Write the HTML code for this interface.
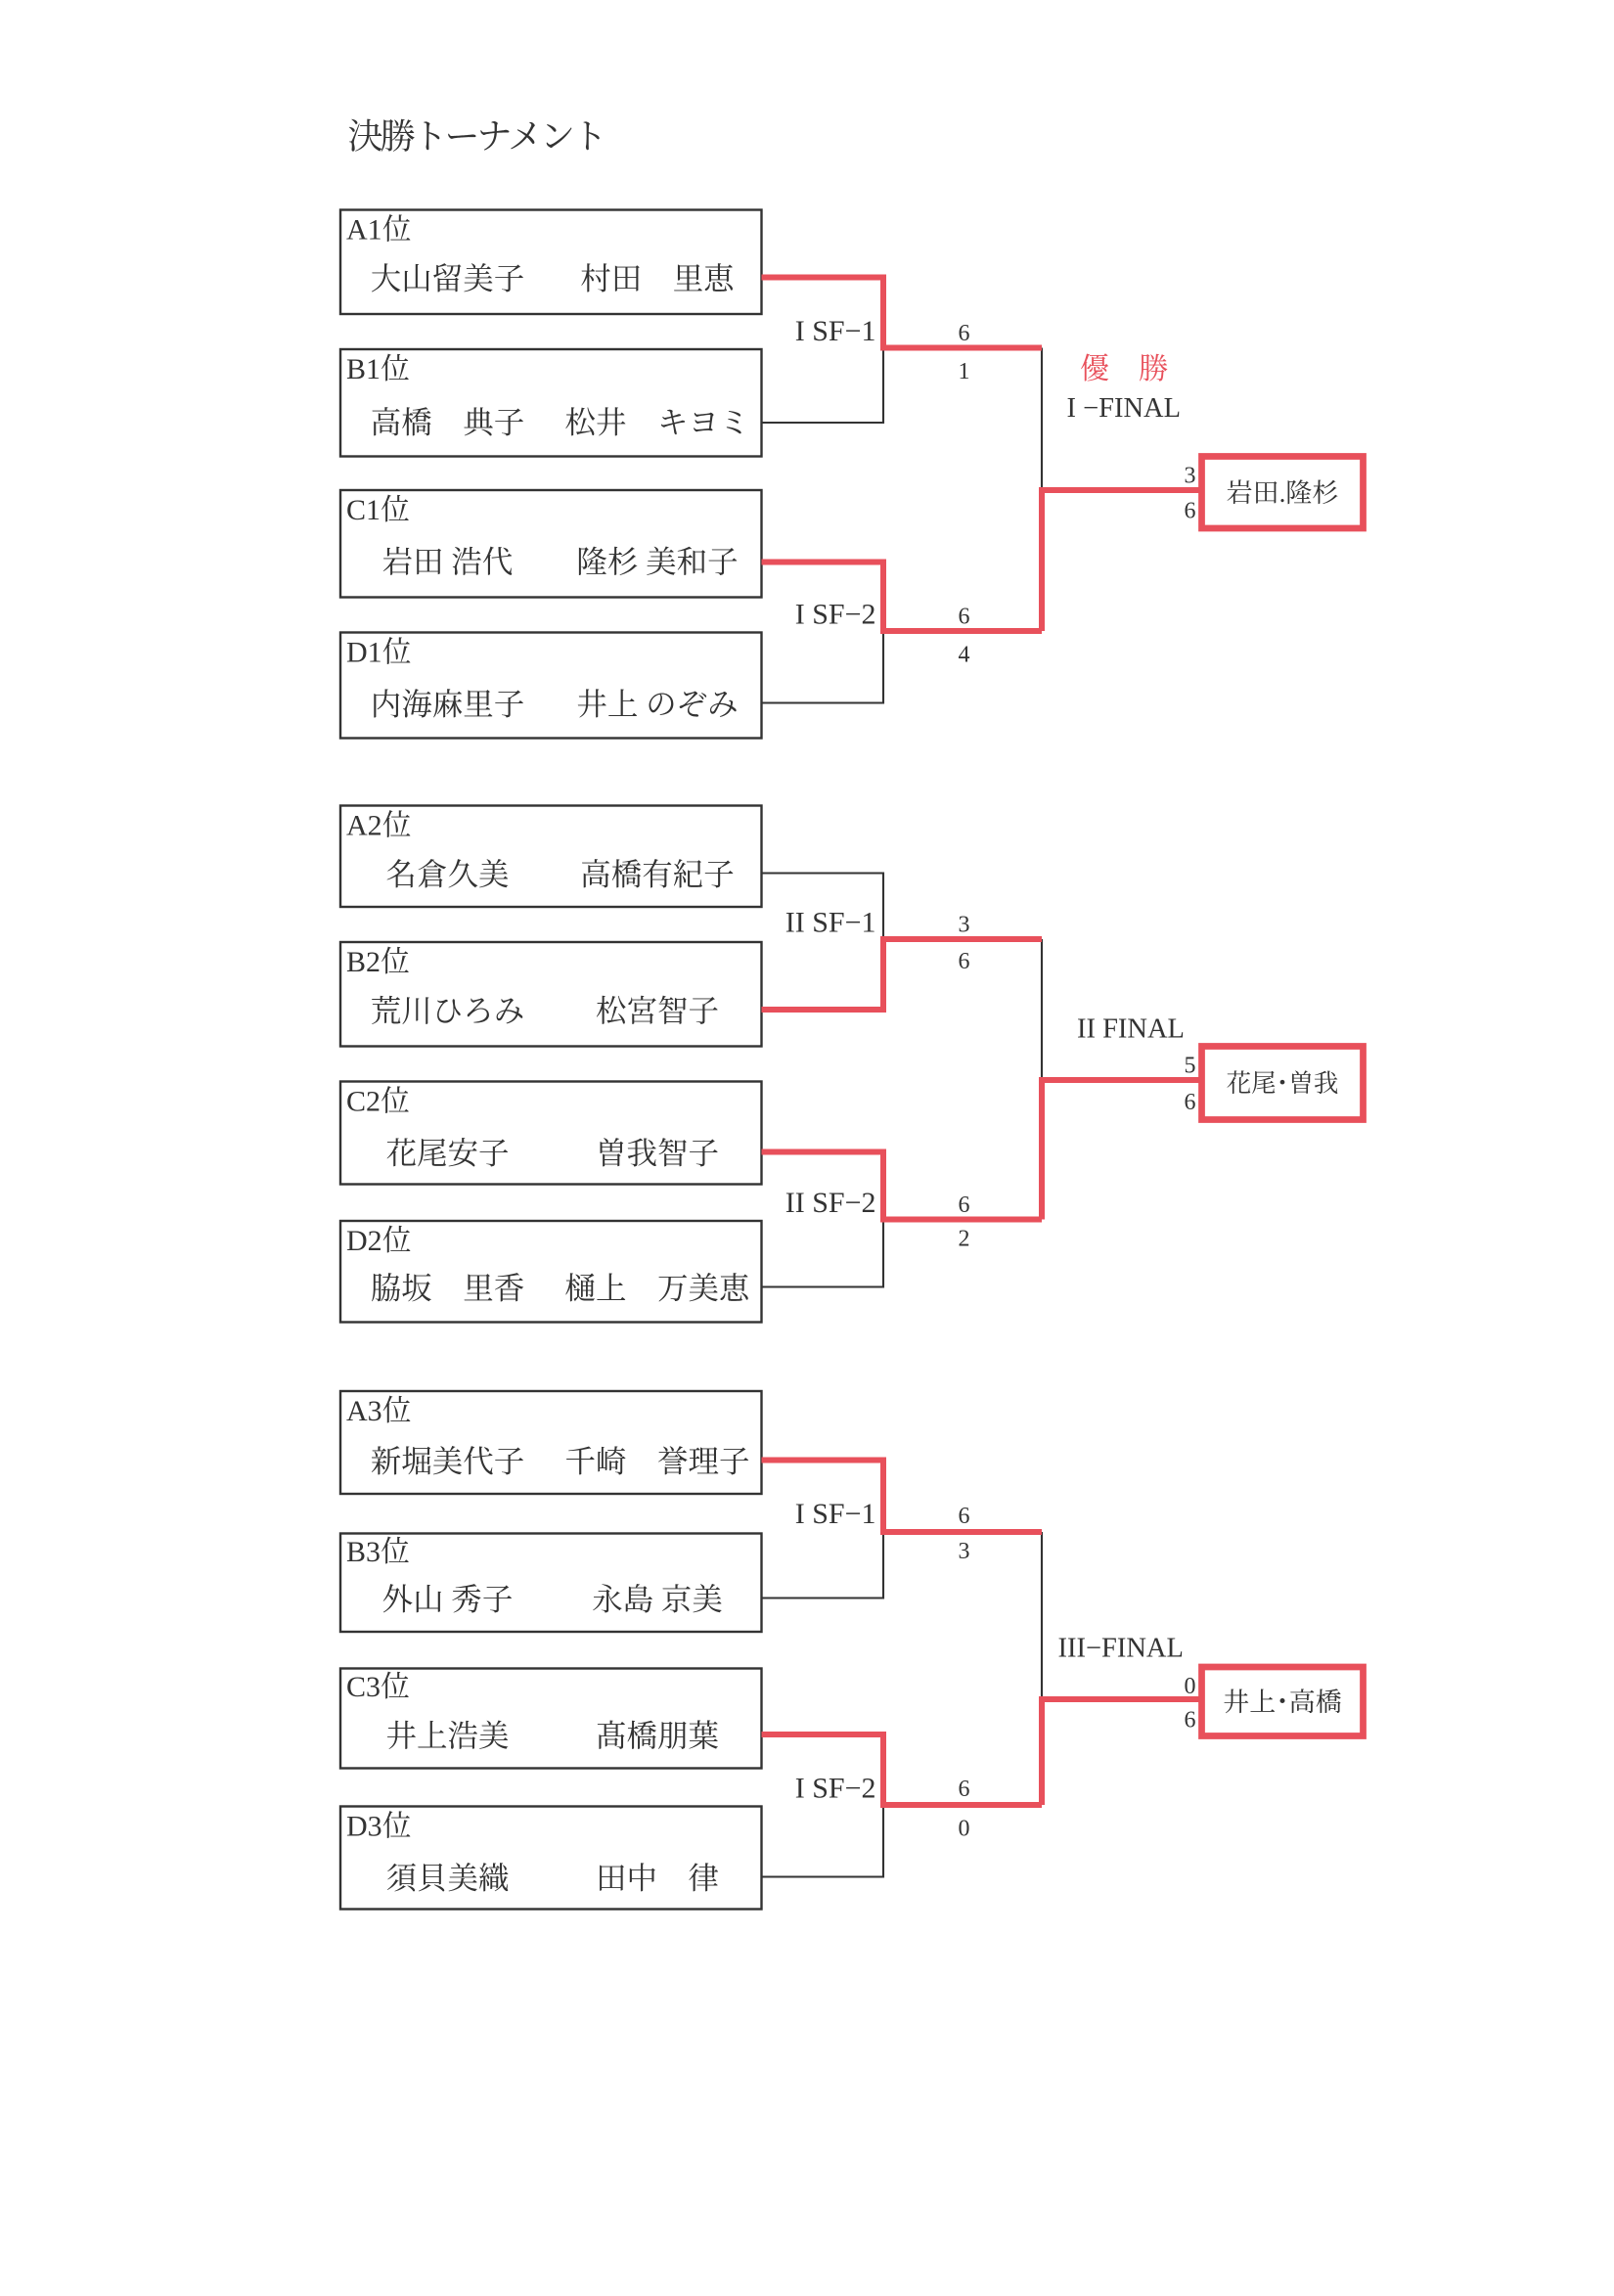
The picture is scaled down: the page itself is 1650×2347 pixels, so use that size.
<!DOCTYPE html>
<html><head><meta charset="utf-8"><style>
html,body{margin:0;padding:0;background:#fff;}
svg{display:block;}
text{font-family:"Liberation Serif","Noto Serif CJK JP","Noto Serif CJK SC",serif;fill:#333;}
.lb{font-size:20px;}
.nm{font-size:21px;text-anchor:middle;}
.sc{font-size:16px;text-anchor:middle;}
.fs{font-size:16px;text-anchor:end;}
.sf{font-size:20px;text-anchor:end;}
.bx{fill:#fff;stroke:#333;stroke-width:1.6;}
.bk{fill:none;stroke:#333;stroke-width:1.4;}
.rd{fill:none;stroke:#e8505b;stroke-width:4;stroke-linejoin:miter;}
.fb{fill:#fff;stroke:#e8505b;stroke-width:4.5;}
</style></head><body>
<svg width="1650" height="2347" viewBox="0 0 1100 1564.67" preserveAspectRatio="none" xmlns="http://www.w3.org/2000/svg">
<text x="237" y="101" style="font-size:24px;letter-spacing:-2px;font-family:'Noto Serif CJK JP','Noto Serif CJK SC',serif;">決勝トーナメント</text>

<!-- Group 1 -->
<rect class="bx" x="232" y="143" width="287" height="71"/>
<rect class="bx" x="232" y="238" width="287" height="73"/>
<rect class="bx" x="232" y="334" width="287" height="73"/>
<rect class="bx" x="232" y="431" width="287" height="72"/>
<text class="lb" x="236" y="163">A1位</text>
<text class="lb" x="236" y="258">B1位</text>
<text class="lb" x="236" y="354">C1位</text>
<text class="lb" x="236" y="451">D1位</text>
<text class="nm" x="305" y="197">大山留美子</text><text class="nm" x="448" y="197" xml:space="preserve">村田　里恵</text>
<text class="nm" x="305" y="295" xml:space="preserve">高橋　典子</text><text class="nm" x="448" y="295" xml:space="preserve">松井　キヨミ</text>
<text class="nm" x="305" y="390" xml:space="preserve">岩田 浩代</text><text class="nm" x="448" y="390" xml:space="preserve">隆杉 美和子</text>
<text class="nm" x="305" y="487">内海麻里子</text><text class="nm" x="448" y="487" xml:space="preserve">井上 のぞみ</text>
<polyline class="bk" points="519,288 602,288 602,237"/>
<polyline class="bk" points="519,479 602,479 602,430"/>
<polyline class="bk" points="710,237 710,334"/>
<polyline class="rd" points="519,189 602,189 602,237 710,237"/>
<polyline class="rd" points="519,383 602,383 602,430 710,430"/>
<polyline class="rd" points="710,430 710,334 818,334"/>
<text class="sf" x="597" y="232">I SF−1</text>
<text class="sf" x="597" y="425">I SF−2</text>
<text class="sc" x="657" y="232">6</text><text class="sc" x="657" y="258">1</text>
<text class="sc" x="657" y="425">6</text><text class="sc" x="657" y="451">4</text>
<text x="736" y="258" style="font-size:20px;fill:#e8505b;" xml:space="preserve">優　勝</text>
<text x="727" y="284" style="font-size:19px;">I −FINAL</text>
<text class="fs" x="815" y="329">3</text><text class="fs" x="815" y="353">6</text>
<rect class="fb" x="819" y="311" width="110" height="49"/>
<text x="874" y="342" style="font-size:18px;text-anchor:middle;">岩田.隆杉</text>

<!-- Group 2 -->
<rect class="bx" x="232" y="549" width="287" height="69"/>
<rect class="bx" x="232" y="642" width="287" height="71"/>
<rect class="bx" x="232" y="737" width="287" height="70"/>
<rect class="bx" x="232" y="832" width="287" height="69"/>
<text class="lb" x="236" y="569">A2位</text>
<text class="lb" x="236" y="662">B2位</text>
<text class="lb" x="236" y="757">C2位</text>
<text class="lb" x="236" y="852">D2位</text>
<text class="nm" x="305" y="603">名倉久美</text><text class="nm" x="448" y="603">高橋有紀子</text>
<text class="nm" x="305" y="696">荒川ひろみ</text><text class="nm" x="448" y="696">松宮智子</text>
<text class="nm" x="305" y="793">花尾安子</text><text class="nm" x="448" y="793">曽我智子</text>
<text class="nm" x="305" y="885" xml:space="preserve">脇坂　里香</text><text class="nm" x="448" y="885" xml:space="preserve">樋上　万美恵</text>
<polyline class="bk" points="519,595 602,595 602,640"/>
<polyline class="bk" points="519,877 602,877 602,831"/>
<polyline class="bk" points="710,640 710,736"/>
<polyline class="rd" points="519,688 602,688 602,640 710,640"/>
<polyline class="rd" points="519,785 602,785 602,831 710,831"/>
<polyline class="rd" points="710,831 710,736 818,736"/>
<text class="sf" x="597" y="635">II SF−1</text>
<text class="sf" x="597" y="826">II SF−2</text>
<text class="sc" x="657" y="635">3</text><text class="sc" x="657" y="660">6</text>
<text class="sc" x="657" y="826">6</text><text class="sc" x="657" y="849">2</text>
<text x="734" y="707" style="font-size:19px;">II FINAL</text>
<text class="fs" x="815" y="731">5</text><text class="fs" x="815" y="756">6</text>
<rect class="fb" x="819" y="713" width="110" height="50"/>
<text x="874" y="744" style="font-size:17px;text-anchor:middle;">花尾･曽我</text>

<!-- Group 3 -->
<rect class="bx" x="232" y="948" width="287" height="70"/>
<rect class="bx" x="232" y="1045" width="287" height="67"/>
<rect class="bx" x="232" y="1137" width="287" height="68"/>
<rect class="bx" x="232" y="1231" width="287" height="70"/>
<text class="lb" x="236" y="968">A3位</text>
<text class="lb" x="236" y="1064">B3位</text>
<text class="lb" x="236" y="1156">C3位</text>
<text class="lb" x="236" y="1251">D3位</text>
<text class="nm" x="305" y="1003">新堀美代子</text><text class="nm" x="448" y="1003" xml:space="preserve">千崎　誉理子</text>
<text class="nm" x="305" y="1097" xml:space="preserve">外山 秀子</text><text class="nm" x="448" y="1097" xml:space="preserve">永島 京美</text>
<text class="nm" x="305" y="1190">井上浩美</text><text class="nm" x="448" y="1190">髙橋朋葉</text>
<text class="nm" x="305" y="1287">須貝美織</text><text class="nm" x="448" y="1287" xml:space="preserve">田中　律</text>
<polyline class="bk" points="519,1089 602,1089 602,1044"/>
<polyline class="bk" points="519,1279 602,1279 602,1230"/>
<polyline class="bk" points="710,1044 710,1158"/>
<polyline class="rd" points="519,995 602,995 602,1044 710,1044"/>
<polyline class="rd" points="519,1182 602,1182 602,1230 710,1230"/>
<polyline class="rd" points="710,1230 710,1158 818,1158"/>
<text class="sf" x="597" y="1038">I SF−1</text>
<text class="sf" x="597" y="1225">I SF−2</text>
<text class="sc" x="657" y="1038">6</text><text class="sc" x="657" y="1062">3</text>
<text class="sc" x="657" y="1224">6</text><text class="sc" x="657" y="1251">0</text>
<text x="721" y="1129" style="font-size:19px;">III−FINAL</text>
<text class="fs" x="815" y="1154">0</text><text class="fs" x="815" y="1177">6</text>
<rect class="fb" x="819" y="1136" width="110" height="47"/>
<text x="874" y="1166" style="font-size:18px;text-anchor:middle;">井上･高橋</text>
</svg>
</body></html>
